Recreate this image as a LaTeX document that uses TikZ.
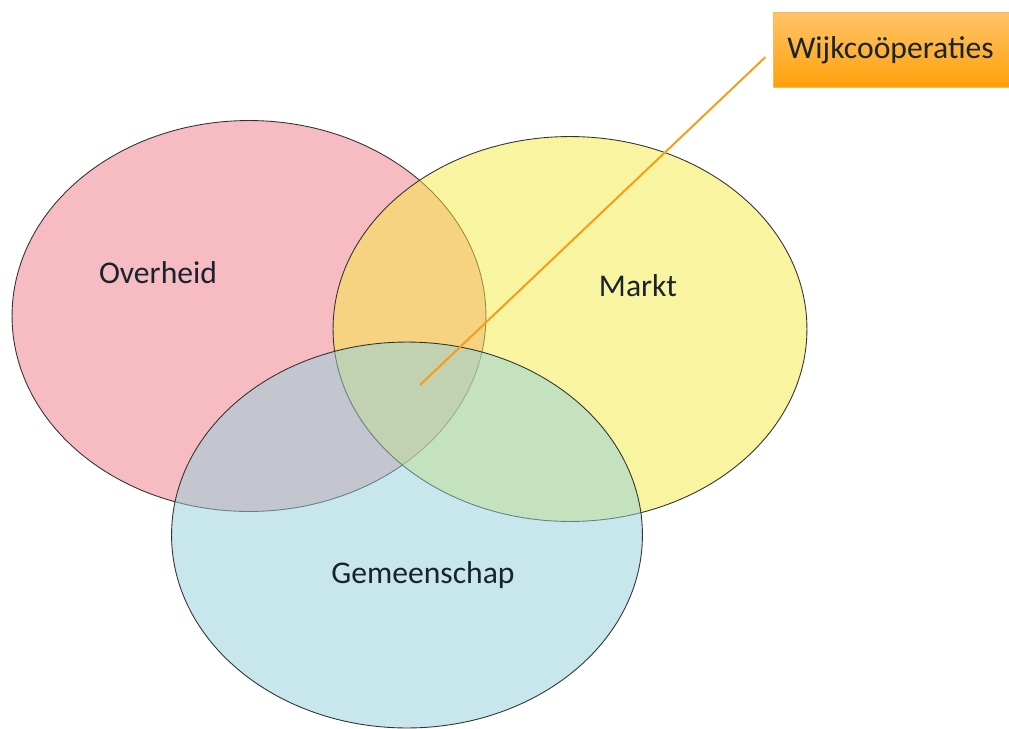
\documentclass[tikz,border=0pt]{standalone}
\usepackage{fontspec}
\setmainfont{Carlito}
\usepackage{tikz}
\usetikzlibrary{positioning,shapes.geometric}
\usepackage{xcolor}
\definecolor{overheidred}{RGB}{241,121,135}
\definecolor{marktyellow}{RGB}{245,235,65}
\definecolor{gemblue}{RGB}{145,209,221}
\definecolor{labeltext}{RGB}{25,35,45}
\definecolor{leaderorange}{RGB}{250,155,20}
\definecolor{boxtop}{RGB}{255,196,105}
\definecolor{boxbottom}{RGB}{255,160,10}

\begin{document}
\begin{tikzpicture}[%
    x=0.02cm,
    y=-0.02cm,
    sector/.style={%
      ellipse,
      draw=black!80,
      line width=0.5pt,
      fill opacity=0.5,
      inner sep=0pt
    },
    setname/.style={%
      text=labeltext,
      font=\fontsize{18}{22}\selectfont
    },
    callout/.style={%
      rectangle,
      draw=boxtop!80!orange,
      top color=boxtop,
      bottom color=boxbottom,
      text=labeltext,
      font=\fontsize{18}{22}\selectfont,
      minimum height=1.5cm,
      minimum width=5cm,
      text width=4.5cm,
      inner xsep=0.28cm
    }
  ]
    \useasboundingbox (0,0) rectangle (1009,728);
    \fill[white] (0,0) rectangle (1009,728);

    % de drie cirkels
    \node[sector, fill=overheidred, minimum width=9.48cm, minimum height=7.82cm] (overheid) at (249,316) {};
    \node[sector, fill=marktyellow, minimum width=9.48cm, minimum height=7.70cm] (markt) at (570,329) {};
    \node[sector, fill=gemblue, minimum width=9.42cm, minimum height=7.72cm] (gemeenschap) at (407,535) {};

    \node[setname] (overheidlabel) at (158,273) {Overheid};
    \node[setname] (marktlabel) at (638,286) {Markt};
    \node[setname] (gemlabel) at (423,575) {Gemeenschap};

    % callout rechtsboven
    \node[callout, anchor=north west] (wijk) at (773,12) {Wijkcoöperaties};
    \coordinate (kern) at (420,385);
    \draw[leaderorange, line width=1.1pt, shorten >=6pt] (kern) -- (wijk.west);
\end{tikzpicture}
\end{document}
